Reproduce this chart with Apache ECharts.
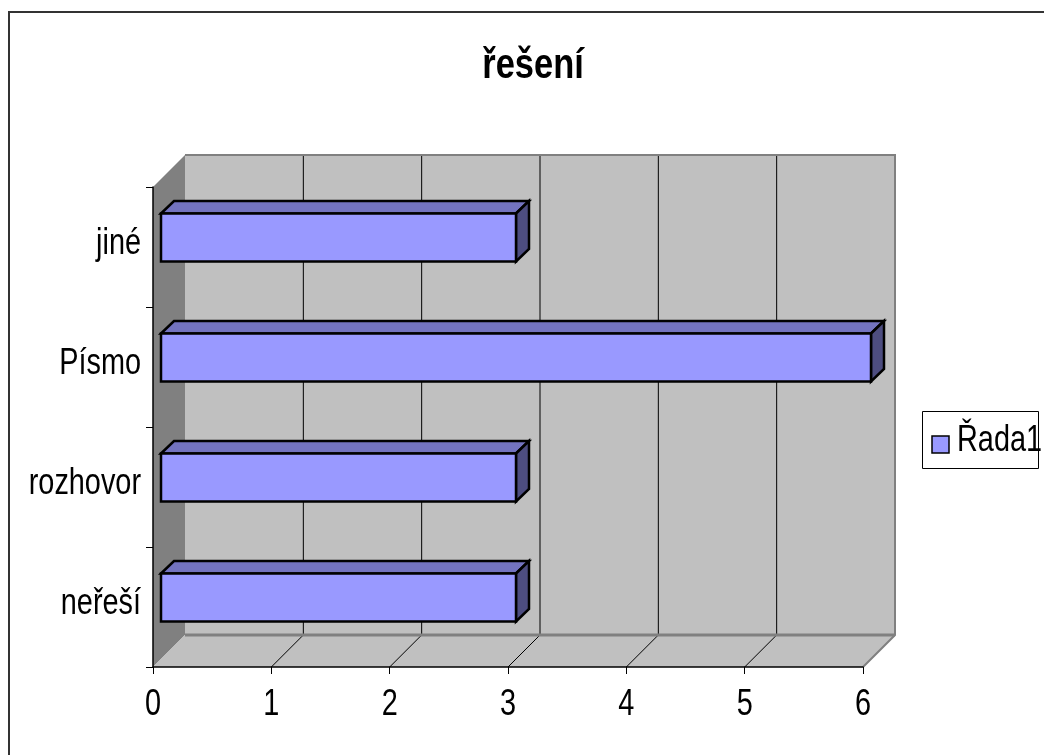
<!DOCTYPE html>
<html>
<head>
<meta charset="utf-8">
<script src="https://cdn.jsdelivr.net/npm/echarts@6/dist/echarts.min.js"></script>
<style>html,body{margin:0;padding:0;background:#fff}#c{width:1044px;height:755px}</style>
</head>
<body>
<div id="c"></div>
<script>
const titleText = 'řešení';
const seriesName = 'Řada1';
const categories = ['neřeší', 'rozhovor', 'Písmo', 'jiné'];
const values = [3, 3, 6, 3];
const xTickLabels = ['0', '1', '2', '3', '4', '5', '6'];
const xMin = 0, xMax = 6, xStep = 1;

const FONT = "'Liberation Sans', Arial, sans-serif";
const SX = 0.78;        // horizontal condensing of the text, as in the reference
const FS = 37;
// depth of the 3D box (px) and bar placement within it
const DX = 32, DY = -32;
const BX = 8, BY = -9.5, BDX = 13, BDY = -12.5;
const BAR_COLOR = '#9999ff';

function txt(x, y, text, align, valign, size, weight, sx) {
  return {
    type: 'text', x: x, y: y, scaleX: sx || SX, scaleY: 1, silent: true,
    style: {
      text: text, x: 0, y: 0, fill: '#000',
      fontSize: size, fontFamily: FONT, fontWeight: weight || 'normal',
      align: align, verticalAlign: valign, textAlign: align, textVerticalAlign: valign
    }
  };
}

function renderWalls(params, api) {
  const cs = params.coordSys;
  const L = cs.x, T = cs.y, R = cs.x + cs.width, B = cs.y + cs.height;
  const ch = [];
  ch.push({type: 'rect', shape: {x: L + DX, y: T + DY, width: cs.width, height: cs.height}, style: {fill: '#c0c0c0'}});
  ch.push({type: 'polygon', shape: {points: [[L, T], [L + DX, T + DY], [L + DX, B + DY], [L, B]]}, style: {fill: '#808080'}});
  ch.push({type: 'polygon', shape: {points: [[L, B], [L + DX, B + DY], [R + DX, B + DY], [R, B]]}, style: {fill: '#c0c0c0'}});
  for (let v = xMin + xStep; v < xMax; v += xStep) {
    const x = api.coord([v, 0])[0];
    ch.push({type: 'line', shape: {x1: x + DX, y1: T + DY, x2: x + DX, y2: B + DY}, style: {stroke: '#000', lineWidth: 1}});
    ch.push({type: 'line', shape: {x1: x, y1: B, x2: x + DX, y2: B + DY}, style: {stroke: '#000', lineWidth: 1}});
  }
  ch.push({type: 'polyline', shape: {points: [[L + DX, T + DY], [R + DX, T + DY], [R + DX, B + DY], [R, B]]}, style: {stroke: '#808080', lineWidth: 2, fill: null}});
  ch.push({type: 'line', shape: {x1: L + DX, y1: B + DY, x2: R + DX, y2: B + DY}, style: {stroke: '#808080', lineWidth: 3}});
  // axis labels (condensed text)
  categories.forEach(function (c, i) {
    const p = api.coord([xMin, i]);
    ch.push(txt(p[0] - 12, p[1] - 3.5, c, 'right', 'middle', FS));
  });
  xTickLabels.forEach(function (t, i) {
    const x = api.coord([xMin + i * xStep, 0])[0];
    ch.push(txt(x, B + 37.5, t, 'center', 'middle', FS));
  });
  return {type: 'group', children: ch};
}

function renderBar(params, api) {
  const v = api.value(0), idx = api.value(1);
  const p0 = api.coord([xMin, idx]), p1 = api.coord([v, idx]);
  const band = api.size([0, 1])[1];
  const h = band * 0.4;
  const x0 = p0[0] + BX, x1 = p1[0] + BX;
  const yc = p0[1] + BY;
  const y0 = yc - h / 2, y1 = yc + h / 2;
  const st = {stroke: '#000', lineWidth: 2.5, lineJoin: 'miter'};
  return {type: 'group', children: [
    {type: 'polygon', shape: {points: [[x0, y0], [x0 + BDX, y0 + BDY], [x1 + BDX, y0 + BDY], [x1, y0]]}, style: Object.assign({fill: '#7373bf'}, st)},
    {type: 'polygon', shape: {points: [[x1, y0], [x1 + BDX, y0 + BDY], [x1 + BDX, y1 + BDY], [x1, y1]]}, style: Object.assign({fill: '#4d4d80'}, st)},
    {type: 'rect', shape: {x: x0, y: y0, width: x1 - x0, height: y1 - y0}, style: Object.assign({fill: BAR_COLOR}, st)}
  ]};
}

const chart = echarts.init(document.getElementById('c'), null, {renderer: 'canvas'});
chart.setOption({
  animation: false,
  backgroundColor: '#ffffff',
  graphic: [
    {type: 'rect', shape: {x: 9, y: 12, width: 1100, height: 800}, style: {fill: null, stroke: '#333', lineWidth: 2}, z: 100, silent: true},
    // title
    Object.assign(txt(533, 66, titleText, 'center', 'middle', 42, 'bold', 0.82), {z: 100}),
    // legend
    {type: 'rect', shape: {x: 922.5, y: 411.5, width: 116, height: 57}, style: {fill: '#fff', stroke: '#000', lineWidth: 1}, z: 100, silent: true},
    {type: 'rect', shape: {x: 932, y: 436, width: 17, height: 17}, style: {fill: BAR_COLOR, stroke: '#000', lineWidth: 1.5}, z: 101, silent: true},
    Object.assign(txt(957, 441, seriesName, 'left', 'middle', FS), {z: 101})
  ],
  grid: {left: 153, right: 181, top: 187, bottom: 88, containLabel: false},
  xAxis: {
    type: 'value', min: xMin, max: xMax, interval: xStep, z: 10,
    axisLine: {show: true, lineStyle: {color: '#000', width: 1.5}},
    axisTick: {show: true, length: 7, lineStyle: {color: '#000', width: 1}},
    axisLabel: {show: false},
    splitLine: {show: false}
  },
  yAxis: {
    type: 'category', data: categories, z: 10,
    axisLine: {show: true, onZero: false, lineStyle: {color: '#000', width: 1.5}},
    axisTick: {show: true, length: 7, lineStyle: {color: '#000', width: 1}},
    axisLabel: {show: false},
    splitLine: {show: false}
  },
  series: [
    {type: 'custom', name: '_walls', renderItem: renderWalls, data: [[0, 0]], z: 1, silent: true},
    {type: 'custom', name: seriesName, renderItem: renderBar, itemStyle: {color: BAR_COLOR},
     data: values.map(function (v, i) { return [v, i]; }), z: 3, encode: {x: 0, y: 1}}
  ]
});
</script>
</body>
</html>
